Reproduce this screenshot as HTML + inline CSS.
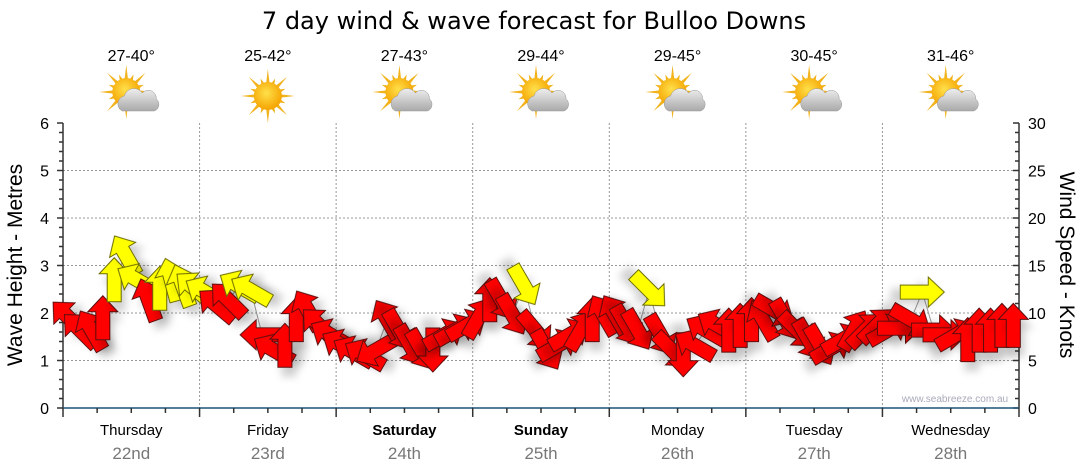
<!DOCTYPE html>
<html><head><meta charset="utf-8"><style>
body{margin:0;background:#fff;width:1080px;height:475px;overflow:hidden;font-family:"Liberation Sans",sans-serif}
svg{display:block}
</style></head><body>
<svg id="chart" width="1080" height="475" font-family="Liberation Sans, sans-serif">
<defs>
<filter id="sh" x="-50%" y="-50%" width="200%" height="200%"><feDropShadow dx="4" dy="9" stdDeviation="4" flood-color="#000" flood-opacity="0.18"/></filter>
<radialGradient id="sunG" cx="0.45" cy="0.4" r="0.6"><stop offset="0" stop-color="#ffe04a"/><stop offset="1" stop-color="#f5a300"/></radialGradient>
<linearGradient id="cloudG" x1="0" y1="0" x2="0" y2="1"><stop offset="0" stop-color="#eee"/><stop offset="1" stop-color="#a9a9a9"/></linearGradient>
</defs>
<text x="534" y="29" font-size="24" font-family="DejaVu Sans, sans-serif" text-anchor="middle" fill="#000">7 day wind &amp; wave forecast for Bulloo Downs</text>
<g id="grid"></g>
<g id="axes"></g>
<text x="955" y="402" font-size="10" fill="#aab" text-anchor="middle">www.seabreeze.com.au</text>
<g id="wind"></g>
<g id="days"></g>
<text transform="translate(22,265) rotate(-90)" font-size="21" text-anchor="middle">Wave Height - Metres</text>
<text transform="translate(1060,265) rotate(90)" font-size="21" text-anchor="middle">Wind Speed - Knots</text>
</svg>
<script>
const dayNames=["Thursday","Friday","Saturday","Sunday","Monday","Tuesday","Wednesday"];
const dayDates=["22nd","23rd","24th","25th","26th","27th","28th"];
const temps=["27-40°","25-42°","27-43°","29-44°","29-45°","30-45°","31-46°"];
const icons=["partly","sunny","partly","partly","partly","partly","partly"];
const waveTicks=[0,1,2,3,4,5,6];
const windTicks=[0,5,10,15,20,25,30];
const windKts=[9.5,8.2,8.2,9.5,13.5,16.1,13.5,11.4,12.6,13.5,12.9,12.6,
12.2,10.8,11.4,12.8,12.4,7.7,6.1,6.6,9.3,10.3,8.7,7.7,
6.6,5.9,5.6,6.1,9.3,8.2,6.6,6.1,6.1,7.7,8.2,8.7,
9.5,11.4,11.4,9.8,12.9,8.2,6.1,6.6,7.7,8.2,9.3,9.8,
9.8,8.7,8.2,12.4,7.7,6.1,5.6,6.6,8.2,8.7,8.2,8.7,
9.3,9.3,10.3,9.3,8.2,7.2,6.6,6.3,7.2,8.2,8.2,8.7,
8.2,8.4,9.3,12.2,8.2,7.7,7.7,7.2,8.2,8.2,8.7,8.7];
const windDir=[315,315,330,0,0,330,300,340,0,345,340,310,
300,310,315,300,300,270,300,0,0,330,315,300,
300,300,300,240,330,150,150,150,180,60,60,60,
30,0,150,150,150,140,150,60,60,30,0,330,
330,150,150,135,150,135,180,300,300,300,0,0,
0,330,120,150,135,150,150,60,60,30,45,45,
60,90,120,90,90,90,60,0,0,0,0,0];
const hourStep=2;
const X0=63,X1=1019,Y0=408,Y1=123,HOURS=168;
const xH=h=>X0+h/HOURS*(X1-X0);
const yW=m=>Y0-m/6*(Y0-Y1);
const yK=k=>Y0-k/30*(Y0-Y1);
const NS="http://www.w3.org/2000/svg";
function mk(tag,attrs,parent){const e=document.createElementNS(NS,tag);for(const k in attrs)e.setAttribute(k,attrs[k]);parent.appendChild(e);return e;}
const grid=document.getElementById('grid'),axes=document.getElementById('axes'),wind=document.getElementById('wind'),days=document.getElementById('days');
waveTicks.forEach(v=>{if(v>0&&v<6){const l=mk('line',{x1:X0,x2:X1,y1:yW(v),y2:yW(v),stroke:'#999','stroke-dasharray':'2,2'},grid);

}
const t=mk('text',{x:X0-14,y:yW(v)+6,'font-size':16,'text-anchor':'end'},axes);t.textContent=v;


});
for(let i=0;i<=30;i++){const y=Y0-i/30*(Y0-Y1);const maj=i%5==0;
mk('line',{x1:X0-(maj?6:4),x2:X0,y1:y,y2:y,stroke:'#333','stroke-width':1.5},axes);
mk('line',{x1:X1-(maj?6:4),x2:X1,y1:y,y2:y,stroke:'#333','stroke-width':1.5},axes);}
windTicks.forEach(v=>{const t=mk('text',{x:X1+9,y:yK(v)+6,'font-size':16},axes);t.textContent=v;

});
mk('line',{x1:X0,x2:X0,y1:Y1,y2:Y0,stroke:'#333','stroke-width':1.5},axes);
mk('line',{x1:X1,x2:X1,y1:Y1,y2:Y0,stroke:'#333','stroke-width':1.5},axes);
mk('line',{x1:X0,x2:X1,y1:Y0,y2:Y0,stroke:'#1a5276','stroke-width':1.5},axes);
for(let q=0;q<=28;q++){const x=xH(q*6);mk('line',{x1:x,x2:x,y1:Y0,y2:Y0+(q%4==0?9:5),stroke:'#333','stroke-width':1.5},axes);}
function sun(g,cx,cy){for(let a=0;a<16;a++){const r=a%2?19:27,an=a*Math.PI/8;mk('polygon',{points:`${cx+Math.cos(an-0.13)*13},${cy+Math.sin(an-0.13)*13} ${cx+Math.cos(an)*r},${cy+Math.sin(an)*r} ${cx+Math.cos(an+0.13)*13},${cy+Math.sin(an+0.13)*13}`,fill:'#f1b21c'},g);}
mk('circle',{cx,cy,r:14,fill:'url(#sunG)'},g);}
dayNames.forEach((d,i)=>{const cx=xH(i*24+12);
if(i>0){const l=mk('line',{x1:xH(i*24),x2:xH(i*24),y1:Y1,y2:Y0,stroke:'#999','stroke-dasharray':'2,2'},grid);

}
const t=mk('text',{x:cx,y:435,'font-size':15,'text-anchor':'middle','font-weight':(i==2||i==3)?'bold':'normal'},days);t.textContent=d;


const t2=mk('text',{x:cx,y:459,'font-size':17,'text-anchor':'middle',fill:'#777'},days);t2.textContent=dayDates[i];


const t3=mk('text',{x:cx,y:61,'font-size':16,'text-anchor':'middle'},days);t3.textContent=temps[i];


const g=mk('g',{},days);


if(icons[i]=='sunny'){sun(g,cx,96);}else{sun(g,cx-5,92);
mk('path',{d:`M${cx-9},111 a8,8 0 0 1 2,-15 a10,10 0 0 1 18,-3 a8,8 0 0 1 14,6 a7,7 0 0 1 -2,12 z`,fill:'url(#cloudG)',stroke:'#999','stroke-width':0.5},g);}
});
const pts=windKts.map((k,i)=>[xH(i*hourStep+1),yK(k)]);
const pl=mk('polyline',{points:pts.map(p=>p.join(',')).join(' '),fill:'none',stroke:'#999','stroke-width':1},wind);


const shape="0,-22 15,-6 7,-6 7,22 -7,22 -7,-6 -15,-6";
windKts.forEach((k,i)=>{const [x,y]=pts[i];
const p=mk('polygon',{points:shape,transform:`translate(${x},${y}) rotate(${windDir[i]})`,fill:k>=12?'#ffff00':'#ff0000',stroke:k>=12?'#6b6b00':'#5a1010','stroke-width':1,filter:'url(#sh)'},wind);


});
</script>
</body></html>
